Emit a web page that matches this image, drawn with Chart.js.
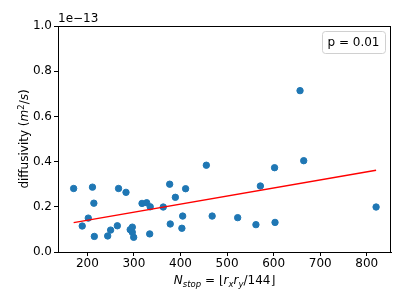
<!DOCTYPE html>
<html><head><meta charset="utf-8">
<script src="https://cdn.jsdelivr.net/npm/chart.js@4/dist/chart.umd.min.js"></script>
<style>html,body{margin:0;padding:0;background:#fff}#wrap{width:407px;height:304px}</style>
</head><body><div id="wrap"><canvas id="c" width="407" height="304"></canvas></div>
<script>
// N_stop values
const nStop = [170.6,189,202,211,214,215,243.7,250,264.4,267,283,292,296.6,296.6,299.5,317.4,327.4,335,333.9,363,376.8,378,389,403,404.7,411,455.5,468,522.8,562,571.5,602,603,656.7,664.6,820];
// diffusivity values in units of 1e-13 m^2/s
const diffusivity = [0.281,0.115,0.150,0.287,0.216,0.069,0.071,0.097,0.116,0.281,0.264,0.099,0.110,0.087,0.065,0.215,0.218,0.200,0.080,0.199,0.300,0.124,0.242,0.105,0.159,0.280,0.384,0.159,0.152,0.121,0.292,0.373,0.131,0.714,0.404,0.199];
// regression line endpoints
const fitX = [170.6, 820];
const fitY = [0.130, 0.362];
const xTicks = [200,300,400,500,600,700,800];
const yTicks = [0.0,0.2,0.4,0.6,0.8,1.0];
const legendText = 'p = 0.01';
const offsetText = '1e\u221213';

const FONT = "'DejaVu Sans', sans-serif";
const FS = 12;

const extras = {
  id:'extras',
  afterDraw(chart){
    const ctx = chart.ctx, a = chart.chartArea;
    ctx.save();
    // frame
    ctx.strokeStyle = '#000'; ctx.lineWidth = 1;
    ctx.strokeRect(Math.round(a.left)+0.5, Math.round(a.top)+0.5, Math.round(a.right-a.left)-1, Math.round(a.bottom-a.top));
    // offset text
    ctx.fillStyle = '#000';
    ctx.font = FS + "px " + FONT;
    ctx.textBaseline = 'alphabetic'; ctx.textAlign = 'left';
    ctx.fillText(offsetText, a.left, a.top - 4);
    // legend box
    ctx.font = FS + "px " + FONT;
    const tw = ctx.measureText(legendText).width;
    const bw = tw + 11, bh = 22;
    const bx = a.right - 6 - bw, by = a.top + 5;
    ctx.beginPath();
    if (ctx.roundRect) ctx.roundRect(bx+0.5, by+0.5, bw, bh, 3); else ctx.rect(bx+0.5,by+0.5,bw,bh);
    ctx.fillStyle = 'rgba(255,255,255,0.8)'; ctx.fill();
    ctx.strokeStyle = '#d0d0d0'; ctx.stroke();
    ctx.fillStyle = '#000'; ctx.textBaseline = 'middle';
    ctx.fillText(legendText, bx + 5.5, by + bh/2 + 1);
    // y title: diffusivity (m^2/s)
    ctx.save();
    ctx.translate(24, (a.top + a.bottom)/2);
    ctx.rotate(-Math.PI/2);
    ctx.textBaseline = 'alphabetic';
    const parts = [
      {t:'diffusivity (', f:FS+"px "+FONT, dy:0},
      {t:'m', f:"italic "+FS+"px "+FONT, dy:0},
      {t:'2', f:"8.5px "+FONT, dy:-4.5},
      {t:'/', f:FS+"px "+FONT, dy:0},
      {t:'s', f:"italic "+FS+"px "+FONT, dy:0},
      {t:')', f:FS+"px "+FONT, dy:0}
    ];
    drawParts(ctx, parts, 0, 4);
    ctx.restore();
    // x title
    const xparts = [
      {t:'N', f:"italic "+FS+"px "+FONT, dy:0},
      {t:'stop', f:"italic 8.5px "+FONT, dy:2.5},
      {t:' = ', f:FS+"px "+FONT, dy:0},
      {t:'\u230A', f:FS+"px "+FONT, dy:0},
      {t:'r', f:"italic "+FS+"px "+FONT, dy:0},
      {t:'x', f:"italic 8.5px "+FONT, dy:2.5},
      {t:'r', f:"italic "+FS+"px "+FONT, dy:0},
      {t:'y', f:"italic 8.5px "+FONT, dy:2.5},
      {t:'/144', f:FS+"px "+FONT, dy:0},
      {t:'\u230B', f:FS+"px "+FONT, dy:0}
    ];
    ctx.textBaseline = 'alphabetic';
    drawParts(ctx, xparts, (a.left + a.right)/2, 284);
    ctx.restore();
  }
};
function drawParts(ctx, parts, cx, baseY){
  let w = 0;
  parts.forEach(p=>{ctx.font=p.f; p.w = ctx.measureText(p.t).width; w += p.w;});
  let x = cx - w/2;
  ctx.textAlign = 'left';
  parts.forEach(p=>{ctx.font=p.f; ctx.fillText(p.t, x, baseY + p.dy); x += p.w;});
}

new Chart(document.getElementById('c'), {
  type:'scatter',
  data:{
    datasets:[
      {type:'scatter', data:nStop.map((x,i)=>({x, y:diffusivity[i]})), backgroundColor:'#1f77b4', borderColor:'#1f77b4', pointRadius:3.2, pointHoverRadius:3.2, order:2},
      {type:'line', data:fitX.map((x,i)=>({x, y:fitY[i]})), borderColor:'#ff0000', borderWidth:1.5, pointRadius:0, fill:false, order:1}
    ]
  },
  options:{
    responsive:false, animation:false, devicePixelRatio:1,
    layout:{padding:{left:0, top:26, right:16, bottom:0}},
    plugins:{legend:{display:false}, tooltip:{enabled:false}},
    scales:{
      x:{type:'linear', min:137, max:852,
        afterBuildTicks(s){ s.ticks = xTicks.map(v=>({value:v})); },
        afterFit(s){ s.height = 52; },
        grid:{display:true, drawOnChartArea:false, drawTicks:true, tickLength:4, color:'#000'},
        border:{display:true, color:'#000'},
        ticks:{font:{family:FONT, size:FS}, color:'#000', padding:1, maxRotation:0, callback:v=>String(v)}
      },
      y:{type:'linear', min:0, max:1.0,
        afterBuildTicks(s){ s.ticks = yTicks.map(v=>({value:v})); },
        afterFit(s){ s.width = 58; },
        grid:{display:true, drawOnChartArea:false, drawTicks:true, tickLength:4, color:'#000'},
        border:{display:true, color:'#000'},
        ticks:{font:{family:FONT, size:FS}, color:'#000', padding:2, callback:v=>v.toFixed(1)}
      }
    }
  },
  plugins:[extras]
});
</script></body></html>
